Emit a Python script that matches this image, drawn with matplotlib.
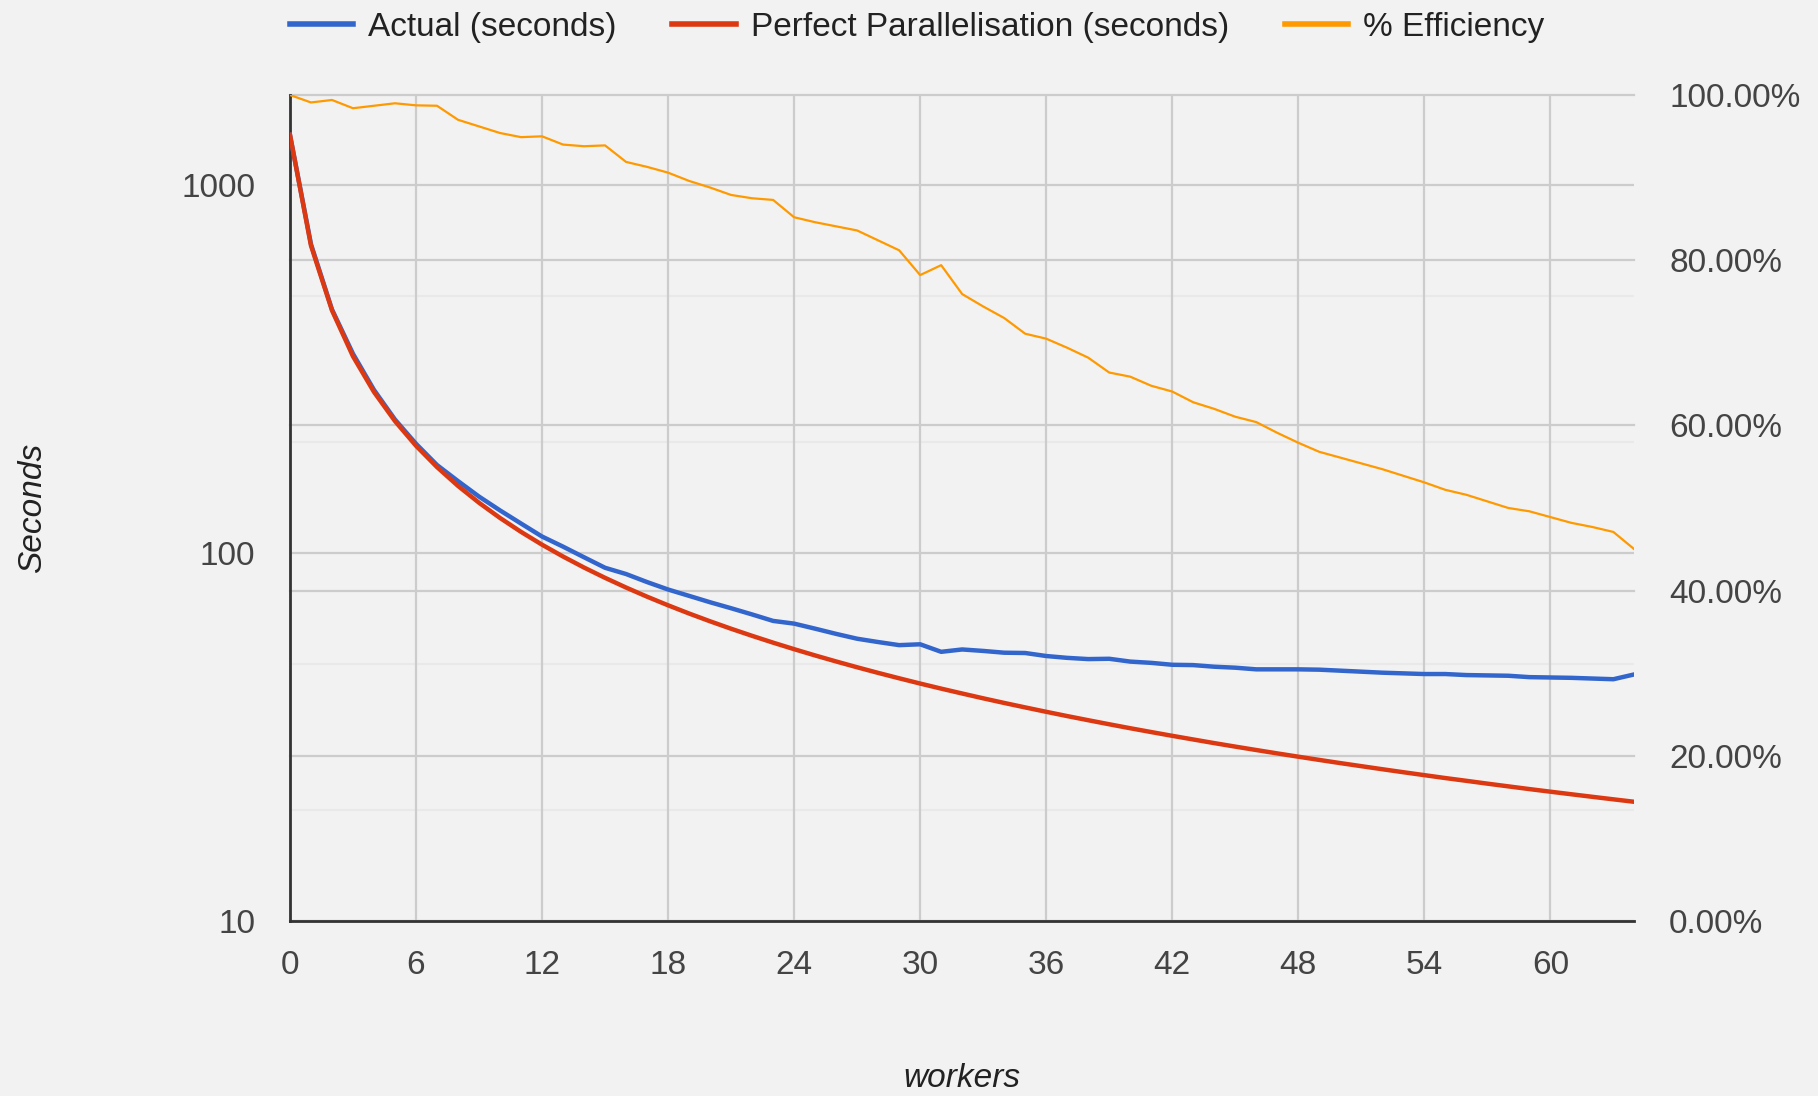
import matplotlib
matplotlib.use("Agg")
import matplotlib.pyplot as plt
from matplotlib.ticker import FixedLocator, FuncFormatter, NullFormatter

plt.rcParams['font.family'] = ['Liberation Sans', 'DejaVu Sans']

# data
workers = list(range(65))
actual_seconds = [
    1370, 691.4, 459.4, 348.1, 277.6, 230.6, 198.2, 173.5, 156.9, 142.4,
    130.6, 120.3, 110.9, 104.1, 97.4, 91.2, 87.7, 83.4, 79.6, 76.5,
    73.5, 70.8, 68.1, 65.4, 64.3, 62.3, 60.3, 58.5, 57.3, 56.2,
    56.5, 53.9, 54.7, 54.2, 53.6, 53.5, 52.5, 51.9, 51.5, 51.6,
    50.7, 50.3, 49.7, 49.6, 49.1, 48.8, 48.3, 48.3, 48.3, 48.2,
    47.9, 47.6, 47.3, 47.1, 46.9, 46.9, 46.6, 46.5, 46.4, 46.0,
    45.9, 45.8, 45.6, 45.4, 46.8,
]
perfect_seconds = [
    1370, 685.0, 456.67, 342.5, 274.0, 228.33, 195.71, 171.25, 152.22, 137.0,
    124.55, 114.17, 105.38, 97.86, 91.33, 85.63, 80.59, 76.11, 72.11, 68.5,
    65.24, 62.27, 59.57, 57.08, 54.8, 52.69, 50.74, 48.93, 47.24, 45.67,
    44.19, 42.81, 41.52, 40.29, 39.14, 38.06, 37.03, 36.05, 35.13, 34.25,
    33.41, 32.62, 31.86, 31.14, 30.44, 29.78, 29.15, 28.54, 27.96, 27.4,
    26.86, 26.35, 25.85, 25.37, 24.91, 24.46, 24.04, 23.62, 23.22, 22.83,
    22.46, 22.10, 21.75, 21.41, 21.08,
]
efficiency_pct = [
    100.0, 99.1, 99.4, 98.4, 98.7, 99.0, 98.75, 98.7, 97.0, 96.2,
    95.4, 94.9, 95.0, 94.0, 93.8, 93.9, 91.9, 91.3, 90.6, 89.6,
    88.8, 87.9, 87.5, 87.3, 85.2, 84.6, 84.1, 83.6, 82.4, 81.2,
    78.2, 79.4, 75.9, 74.4, 73.0, 71.1, 70.5, 69.4, 68.2, 66.4,
    65.9, 64.8, 64.1, 62.8, 62.0, 61.05, 60.4, 59.1, 57.9, 56.8,
    56.1, 55.4, 54.7, 53.9, 53.1, 52.2, 51.6, 50.8, 50.0, 49.6,
    48.9, 48.2, 47.7, 47.1, 45.0,
]

x_ticks = [0, 6, 12, 18, 24, 30, 36, 42, 48, 54, 60]
sec_ticks = [10, 100, 1000]
sec_minor = [20, 50, 200, 500]
pct_ticks = [0, 20, 40, 60, 80, 100]

BG = '#f2f2f2'
TXT = '#444444'
FS = 24

fig = plt.figure(figsize=(18.18, 10.96), dpi=100, facecolor=BG)
ax = fig.add_axes([0.1595, 0.1597, 0.7395, 0.7536])
ax.set_facecolor(BG)
ax2 = ax.twinx()

ax.set_xlim(0, 64)
ax.set_yscale('log')
ax.set_ylim(10, 10 ** 3.245)
ax2.set_ylim(0, 100)

# gridlines, all drawn on the bottom axes
for xt in x_ticks:
    ax.axvline(xt, color='#cccccc', lw=1.6, zorder=0.5)
for yt in sec_minor:
    ax.axhline(yt, color='#e9e9e9', lw=1.6, zorder=0.4)
for yt in sec_ticks:
    ax.axhline(yt, color='#cccccc', lw=1.6, zorder=0.5)
for p in pct_ticks:
    ax.plot([0, 1], [p / 100, p / 100], transform=ax.transAxes,
            color='#cccccc', lw=1.6, zorder=0.5, clip_on=False)

l1, = ax.plot(workers, actual_seconds, color='#3366cc', lw=3.2, zorder=3,
              solid_joinstyle='round')
l2, = ax.plot(workers, perfect_seconds, color='#dc3912', lw=3.2, zorder=4,
              solid_joinstyle='round')
l3, = ax2.plot(workers, efficiency_pct, color='#ff9900', lw=1.6, zorder=5)

for a in (ax, ax2):
    for s in a.spines.values():
        s.set_visible(False)
ax.spines['left'].set_visible(True)
ax.spines['left'].set_color('#333333')
ax.spines['left'].set_linewidth(2)
ax.spines['bottom'].set_visible(True)
ax.spines['bottom'].set_color('#333333')
ax.spines['bottom'].set_linewidth(2)
ax.spines['bottom'].set_zorder(6)

ax.xaxis.set_major_locator(FixedLocator(x_ticks))
ax.yaxis.set_major_locator(FixedLocator(sec_ticks))
ax.yaxis.set_minor_locator(FixedLocator(sec_minor))
ax.yaxis.set_minor_formatter(NullFormatter())
ax.yaxis.set_major_formatter(FuncFormatter(lambda v, p: f'{int(v)}'))
ax2.yaxis.set_major_locator(FixedLocator(pct_ticks))
ax2.yaxis.set_major_formatter(FuncFormatter(lambda v, p: f'{v:.2f}%'))

ax.tick_params(axis='x', length=0, pad=21, labelsize=FS, labelcolor=TXT)
ax.tick_params(axis='y', which='both', length=0, pad=25, labelsize=FS, labelcolor=TXT)
ax2.tick_params(axis='y', length=0, pad=25, labelsize=FS, labelcolor=TXT)

fig.text(0.018, 0.5365, 'Seconds', rotation=90, style='italic', fontsize=FS,
         color='#222222', ha='center', va='center')
fig.text(0.529, 0.0164, 'workers', style='italic', fontsize=FS,
         color='#222222', ha='center', va='center')

leg = fig.legend([l1, l2, l3],
                 ['Actual (seconds)', 'Perfect Parallelisation (seconds)', '% Efficiency'],
                 loc='upper left', bbox_to_anchor=(0.1595, 0.989), ncol=3,
                 frameon=False, fontsize=FS, handlelength=1.9, handletextpad=0.45,
                 columnspacing=1.67, borderpad=0, borderaxespad=0,
                 labelcolor='#222222')
for h in leg.legend_handles:
    h.set_linewidth(4)

fig.savefig('out.png', dpi=100, facecolor=BG)
